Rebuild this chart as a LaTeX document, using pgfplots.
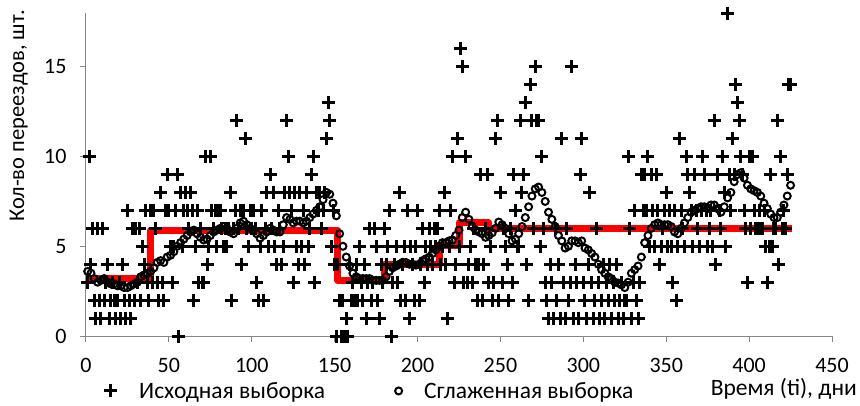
\documentclass[border=0pt]{standalone}
\usepackage{fontspec}
\setmainfont{Carlito}
\usepackage{pgfplots}
\pgfplotsset{compat=1.18}
\definecolor{axgray}{HTML}{868686}
\definecolor{stepred}{HTML}{FF0000}
\begin{document}
\begin{tikzpicture}
\begin{axis}[
  scale only axis, width=746pt, height=323pt,
  xmin=0, xmax=450, ymin=0, ymax=18,
  xtick={0,50,...,450}, ytick={0,5,10,15},
  axis x line=bottom, axis y line=left,
  axis line style={axgray, line width=1pt, -},
  tick style={axgray, line width=1pt},
  tick align=outside, major tick length=6pt,
  clip=false,
  /pgf/number format/assume math mode=true,
  ticklabel style={font=\fontsize{22}{26}\selectfont, black},
  yticklabel style={xshift=-10pt},
  xticklabel style={yshift=-13pt},
  ylabel={Кол-во переездов, шт.},
  ylabel style={at={(axis description cs:-0.0777,1.009)}, anchor=south east, inner sep=0pt,
    font=\fontsize{22.5}{26}\selectfont},
  xlabel={Время (ti), дни},
  xlabel style={at={(rel axis cs:1,0)}, anchor=base east, inner sep=0pt,
    xshift=25pt, yshift=-59pt, font=\fontsize{23.5}{28}\selectfont},
  legend columns=2,
  legend image code/.code={\draw[#1] plot coordinates {(0pt,0pt)};},
  legend style={at={(rel axis cs:0,0)}, anchor=north west, draw=none, fill=none,
    xshift=15pt, yshift=-42pt, font=\fontsize{23.5}{28}\selectfont,
    /tikz/every odd column/.append style={column sep=20pt},
    /tikz/every even column/.append style={column sep=68pt}},
]
\addplot[stepred, line width=7pt, line join=round, forget plot] coordinates {
(0,3.2)(39,3.2)(39,5.9)(152,5.9)(152,3.1)(180,3.1)(180,4.0)(213.5,4.0)(213.5,5.05)(225.5,5.05)(225.5,6.35)(242.5,6.35)(242.5,6.0)(426,6.0)};
\addplot[only marks, mark=+, mark size=6.5pt, line width=3pt, black] table {
x y
1 3
2 10
3 4
4 6
5 2
6 1
7 6
8 2
9 1
10 6
11 2
12 3
13 4
14 1
15 2
16 3
17 2
18 1
19 2
20 3
21 1
22 4
23 2
24 1
25 7
26 2
27 1
28 6
29 2
30 6
31 3
32 6
33 2
34 5
35 4
36 7
37 3
38 2
39 7
40 3
41 7
42 6
43 3
44 2
45 8
46 3
47 2
48 7
49 9
50 7
51 5
52 3
53 5
54 7
55 9
56 0
57 8
58 5
59 7
60 8
61 7
62 6
63 8
64 7
65 2
66 5
67 7
68 3
69 6
70 3
71 3
72 10
73 4
74 5
75 10
76 7
77 6
78 7
79 5
80 7
81 7
82 6
83 5
84 6
85 5
86 6
87 8
88 2
89 6
90 7
91 12
92 6
93 7
94 4
95 7
96 11
97 6
98 5
99 7
100 6
101 7
102 6
103 3
104 2
105 5
106 7
107 2
108 6
109 8
110 5
111 9
112 6
113 8
114 5
115 4
116 7
117 6
118 4
119 5
120 8
121 12
122 10
123 8
124 7
125 3
126 8
127 5
128 4
129 8
130 5
131 7
132 4
133 8
134 5
135 6
136 9
137 10
138 3
139 8
140 7
141 8
142 6
143 7
144 8
145 11
146 13
147 12
148 5
149 7
150 4
151 0
152 4
153 2
154 0
155 2
156 0
157 1
158 0
159 4
160 2
161 3
162 2
163 4
164 2
165 5
166 3
167 2
168 4
169 1
170 3
171 6
172 2
173 3
174 6
175 5
176 2
177 1
178 4
179 3
180 6
181 4
182 5
183 7
184 0
185 3
186 4
187 5
188 3
189 8
190 2
191 4
192 5
193 2
194 7
195 1
196 5
197 4
198 2
199 5
200 7
201 2
202 4
203 6
204 3
205 5
206 4
207 6
208 5
209 4
210 6
211 5
212 6
213 7
214 4
215 5
216 8
217 4
218 1
219 5
220 7
221 10
222 3
223 4
224 11
225 5
226 16
227 15
228 3
229 10
230 3
231 4
232 5
233 3
234 6
235 4
236 2
237 4
238 9
239 2
240 4
241 6
242 9
243 3
244 5
245 2
246 3
247 11
248 12
249 2
250 8
251 3
252 6
253 5
254 4
255 2
256 6
257 3
258 9
259 7
260 5
261 5
262 12
263 8
264 9
265 13
266 4
267 2
268 14
269 12
270 6
271 15
272 12
273 12
274 5
275 10
276 6
277 3
278 2
279 1
280 4
281 3
282 1
283 6
284 2
285 4
286 1
287 11
288 3
289 1
290 6
291 2
292 3
293 15
294 1
295 4
296 3
297 1
298 9
299 11
300 3
301 2
302 1
303 4
304 8
305 3
306 1
307 2
308 6
309 3
310 1
311 2
312 4
313 1
314 3
315 2
316 4
317 1
318 3
319 2
320 4
321 1
322 2
323 3
324 1
325 2
326 2
327 10
328 6
329 1
330 3
331 7
332 2
333 1
334 3
335 9
336 7
337 9
338 7
339 10
340 5
341 9
342 7
343 5
344 9
345 7
346 4
347 5
348 6
349 7
350 8
351 5
352 7
353 5
354 3
355 7
356 2
357 5
358 11
359 7
360 6
361 5
362 10
363 9
364 8
365 7
366 5
367 9
368 7
369 6
370 5
371 7
372 10
373 9
374 7
375 5
376 6
377 7
378 5
379 12
380 4
381 9
382 7
383 6
384 10
385 8
386 5
387 18
388 9
389 7
390 11
391 9
392 14
393 13
394 12
395 10
396 9
397 7
398 6
399 3
400 10
401 6
402 10
403 7
404 6
405 6
406 7
407 6
408 6
409 7
410 5
411 3
412 5
413 9
414 5
415 6
416 6
417 12
418 4
419 10
420 6
421 7
422 6
423 9
424 14
425 14
};
\addlegendentry{Исходная выборка}
\addplot[only marks, mark=o, mark size=3.5pt, line width=2pt, black] coordinates {
(1,3.6)(3,3.5)(5,3.2)(7,3.0)(9,3.1)(11,3.2)(13,3.0)(15,2.9)(17,2.9)(19,2.8)
(21,2.8)(23,2.7)(25,2.7)(27,2.8)(29,2.9)(31,3.0)(33,3.3)(35,3.4)(37,3.5)(39,3.6)
(41,3.8)(43,4.1)(45,4.2)(47,4.1)(49,4.4)(51,4.5)(53,4.7)(55,5.0)(57,5.2)(59,5.4)
(61,5.6)(63,5.8)(65,5.9)(67,5.7)(69,5.5)(71,5.35)(73,5.4)(75,5.6)(77,5.8)(79,5.9)
(81,6.0)(83,6.1)(85,6.0)(87,5.8)(89,5.7)(91,6.0)(93,6.3)(95,6.4)(97,6.2)(99,6.0)
(101,5.9)(103,5.7)(105,5.45)(107,5.6)(109,5.8)(111,6.0)(113,5.9)(115,5.8)(117,5.8)(119,6.2)
(121,6.6)(123,6.5)(125,6.3)(127,6.4)(129,6.4)(131,6.3)(133,6.4)(135,6.6)(137,6.8)(139,7.0)
(141,7.2)(143,7.6)(145,8.0)(147,7.9)(149,7.4)(151,6.7)(153,5.7)(155,5.0)(157,4.4)(159,3.9)
(161,3.5)(163,3.3)(165,3.2)(167,3.2)(169,3.2)(171,3.2)(173,3.1)(175,3.1)(177,3.1)(179,3.1)
(181,3.3)(183,3.6)(185,3.8)(187,3.9)(189,4.0)(191,4.1)(193,4.1)(195,4.0)(197,4.0)(199,3.95)
(201,4.0)(203,4.2)(205,4.3)(207,4.4)(209,4.6)(211,4.8)(213,5.0)(215,5.2)(217,5.2)(219,5.3)
(221,5.35)(223,5.6)(225,5.9)(227,6.6)(229,6.9)(231,6.5)(233,6.1)(235,5.9)(237,5.8)(239,5.7)
(241,5.5)(243,5.6)(245,5.75)(247,6.0)(249,6.35)(251,6.2)(253,6.0)(255,5.7)(257,5.3)(259,5.4)
(261,5.7)(263,6.1)(265,6.6)(267,7.2)(269,7.8)(271,8.2)(273,8.3)(275,8.0)(277,7.5)(279,6.9)
(281,6.5)(283,6.1)(285,5.6)(287,5.3)(289,4.9)(291,5.0)(293,5.3)(295,5.3)(297,5.2)(299,5.3)
(301,4.9)(303,4.8)(305,4.6)(307,4.4)(309,4.0)(311,3.7)(313,3.5)(315,3.3)(317,3.2)(319,3.0)
(321,2.95)(323,2.85)(325,2.7)(327,3.0)(329,3.5)(331,3.7)(333,3.9)(335,4.4)(337,5.2)(339,5.6)
(341,6.0)(343,6.2)(345,6.3)(347,6.2)(349,6.2)(351,6.2)(353,6.1)(355,5.8)(357,5.7)(359,6.0)
(361,6.3)(363,6.6)(365,6.9)(367,7.0)(369,7.1)(371,7.2)(373,7.2)(375,7.1)(377,7.3)(379,7.3)
(381,7.1)(383,6.9)(385,7.2)(387,7.7)(389,8.0)(391,8.6)(393,9.0)(395,9.1)(397,8.8)(399,8.4)
(401,8.2)(403,8.1)(405,8.0)(407,7.8)(409,7.4)(411,7.1)(413,6.8)(415,6.6)(417,6.6)(419,6.9)
(421,7.3)(423,7.8)(425,8.4)};
\addlegendentry{Сглаженная выборка}
\coordinate (O) at (rel axis cs:0,0);
\end{axis}
\pgfresetboundingbox
\path[use as bounding box] ([shift={(-86pt,-69pt)}]O) rectangle ([shift={(774pt,336pt)}]O);
\end{tikzpicture}
\end{document}
